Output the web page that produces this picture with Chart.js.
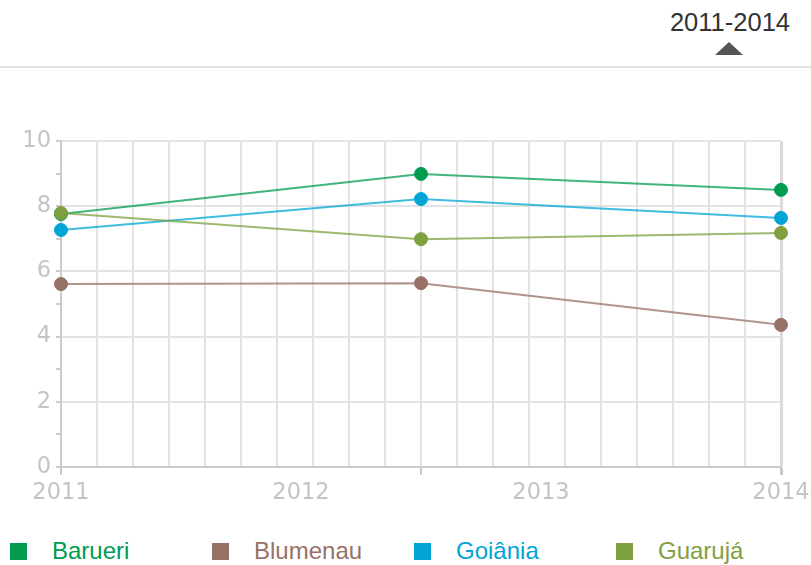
<!DOCTYPE html>
<html>
<head>
<meta charset="utf-8">
<script src="https://cdn.jsdelivr.net/npm/chart.js@4/dist/chart.umd.min.js"></script>
<style>
  body { margin: 0; background: #fff; width: 811px; height: 565px; overflow: hidden; position: relative; font-family: "Liberation Sans", Arial, sans-serif; }
  #period { position: absolute; top: 8px; right: 21px; font-size: 25.5px; color: #333; }
  #arrow { position: absolute; top: 42px; left: 715px; width: 0; height: 0; border-left: 14px solid transparent; border-right: 14px solid transparent; border-bottom: 13px solid #555; }
  #rule { position: absolute; top: 66px; left: 0; width: 811px; height: 2px; background: #e2e2e2; }
  #wrap { position: absolute; top: 0; left: 0; width: 811px; height: 520px; }
  #legend { position: absolute; top: 537px; left: 10px; display: flex; font-size: 24px; }
  .item { display: flex; align-items: center; width: 202px; }
  .sq { width: 17px; height: 17px; margin-right: 25px; }
</style>
</head>
<body>
<div id="period">2011-2014</div>
<div id="arrow"></div>
<div id="rule"></div>
<div id="wrap"><canvas id="chart"></canvas></div>
<div id="legend"></div>
<script>
// data
const periods = [2011, 2012.5, 2014];
const yearLabels = [2011, 2012, 2013, 2014];
const cities = ['Barueri', 'Blumenau', 'Goiânia', 'Guarujá'];
const colors = ['#009b4f', '#977166', '#00a5d6', '#7ea03e'];
const barueri = [7.76, 8.99, 8.50];
const blumenau = [5.61, 5.64, 4.36];
const goiania = [7.27, 8.22, 7.64];
const guaruja = [7.79, 6.99, 7.18];
const values = [barueri, blumenau, goiania, guaruja];

const tickFont = { family: 'DejaVu Sans', size: 22.5 };
const tickGray = '#c4c4c4';

function alpha(hex, a) {
  const n = parseInt(hex.slice(1), 16);
  return `rgba(${n >> 16}, ${(n >> 8) & 255}, ${n & 255}, ${a})`;
}

const datasets = cities.map((name, i) => ({
  label: name,
  data: periods.map((p, j) => ({ x: p, y: values[i][j] })),
  borderColor: alpha(colors[i], 0.75),
  backgroundColor: colors[i],
  pointBackgroundColor: colors[i],
  pointBorderColor: colors[i],
  pointRadius: 6.5,
  pointBorderWidth: 1,
  borderWidth: 2,
  tension: 0,
  clip: false,
  order: cities.length - i, // later series drawn on top
}));

new Chart(document.getElementById('chart'), {
  type: 'line',
  data: { datasets },
  options: {
    responsive: true,
    maintainAspectRatio: false,
    animation: false,
    layout: { padding: { top: 141, right: 30, bottom: 0, left: 0 } },
    plugins: { legend: { display: false }, tooltip: { enabled: false } },
    scales: {
      x: {
        type: 'linear',
        position: 'bottom',
        min: 2011,
        max: 2014,
        afterBuildTicks: (scale) => {
          // 20 grid divisions across the range
          scale.ticks = Array.from({ length: 21 }, (_, i) => ({ value: 2011 + i * 0.15 }));
        },
        afterFit: (scale) => { scale.height = 0; scale.paddingLeft = 0; scale.paddingRight = 0; },
        ticks: { display: false },
        grid: {
          color: (ctx) => ctx.index === 20 ? '#dadada' : '#e3e3e3',
          lineWidth: (ctx) => ctx.index === 20 ? 3 : 2,
          tickLength: 8,
          tickColor: (ctx) => (ctx.index % 10 === 0) ? '#c9c9c9' : 'rgba(0,0,0,0)',
        },
        border: { display: true, color: '#cccccc', width: 2 },
      },
      x2: {
        type: 'linear',
        position: 'bottom',
        min: 2011,
        max: 2014,
        afterBuildTicks: (scale) => { scale.ticks = yearLabels.map(v => ({ value: v })); },
        afterFit: (scale) => { scale.height = 53; scale.paddingLeft = 0; scale.paddingRight = 0; },
        grid: { display: false },
        border: { display: false },
        ticks: { font: tickFont, color: tickGray, padding: 5, maxRotation: 0, autoSkip: false, callback: (v) => String(v) },
      },
      y: {
        min: 0,
        max: 10,
        afterFit: (scale) => { scale.width = 61; },
        ticks: {
          stepSize: 1,
          font: tickFont,
          color: tickGray,
          padding: 5,
          callback: (v) => v % 2 === 0 ? v : '',
        },
        grid: {
          color: (ctx) => ctx.tick.value % 2 === 0 ? '#e3e3e3' : 'rgba(0,0,0,0)',
          lineWidth: 2,
          tickLength: 5,
          tickColor: '#cccccc',
        },
        border: { display: true, color: '#cccccc', width: 2 },
      },
    },
  },
});

const legend = document.getElementById('legend');
cities.forEach((name, i) => {
  const item = document.createElement('div');
  item.className = 'item';
  item.innerHTML = `<span class="sq" style="background:${colors[i]}"></span><span style="color:${colors[i]}">${name}</span>`;
  legend.appendChild(item);
});
</script>
</body>
</html>
